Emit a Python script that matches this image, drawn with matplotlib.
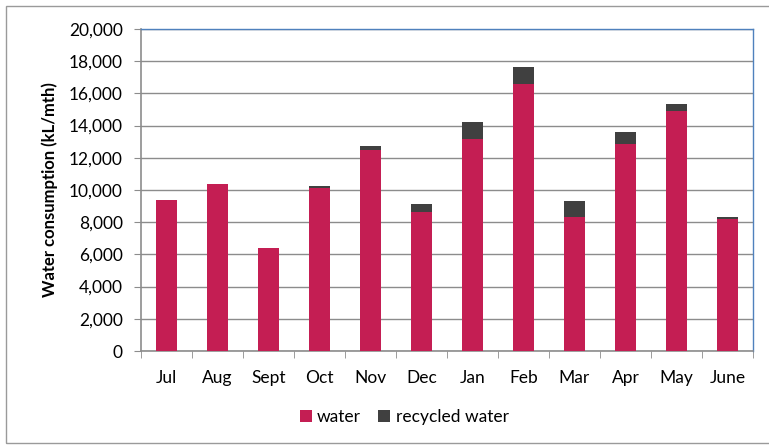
import numpy as np
import matplotlib.pyplot as plt
from matplotlib.patches import Rectangle

# monthly values (kL/mth)
months = ["Jul", "Aug", "Sept", "Oct", "Nov", "Dec", "Jan", "Feb", "Mar", "Apr", "May", "June"]
water = [9400, 10350, 6400, 10140, 12510, 8650, 13170, 16610, 8320, 12880, 14900, 8190]
recycled = [0, 0, 0, 120, 230, 450, 1070, 1020, 970, 720, 440, 110]

plt.rcParams['font.family'] = ['Lato', 'DejaVu Sans']

fig = plt.figure(figsize=(7.69, 4.46), dpi=100)
ax = fig.add_axes([141 / 769, 1 - 351 / 446, 612 / 769, 322 / 446])

# outer chart frame
fig.patches.append(Rectangle((6 / 769, 3 / 446), 1.2, 437 / 446, transform=fig.transFigure,
                             fill=False, edgecolor='#9a9a9a', linewidth=1.0))

x = np.arange(len(months))
ax.bar(x, water, width=0.43, color='#C41E53', label='water', zorder=3)
ax.bar(x, recycled, width=0.43, bottom=water, color='#404040', label='recycled water', zorder=3)

ax.set_xlim(-0.5, len(months) - 0.5)
ax.set_ylim(0, 20000)
ax.set_yticks(np.arange(0, 20001, 2000))
ax.set_yticklabels([f"{v:,}" for v in range(0, 20001, 2000)], fontsize=12.5)
ax.yaxis.grid(True, color='#8c8c8c', linewidth=1.0, zorder=0)

ax.set_xticks(x)
ax.set_xticklabels(months, fontsize=12.5)
ax.set_xticks(np.arange(-0.5, len(months), 1), minor=True)
ax.tick_params(axis='x', which='major', length=0, pad=14)
ax.tick_params(axis='x', which='minor', length=5, color='#8c8c8c')
ax.tick_params(axis='y', length=5, color='#8c8c8c', pad=8)

for side in ['left', 'bottom']:
    ax.spines[side].set_color('#8c8c8c')
    ax.spines[side].set_linewidth(1.2)
for side in ['top', 'right']:
    ax.spines[side].set_color('#4F81BD')
    ax.spines[side].set_linewidth(1.0)

ax.set_ylabel("Water consumption (kL/mth)", fontsize=12, fontweight='bold', labelpad=8)

ax.legend(loc='center', bbox_to_anchor=(0.43, -0.205), ncol=2, frameon=False, fontsize=12.5,
          handlelength=0.7, handleheight=0.7, handletextpad=0.3, columnspacing=1.0)

fig.savefig("out.png", dpi=100)
